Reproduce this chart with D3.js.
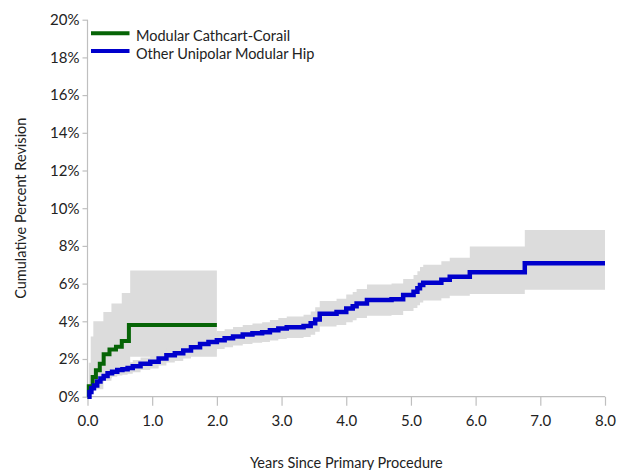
<!DOCTYPE html>
<html>
<head>
<meta charset="utf-8">
<script src="https://cdn.jsdelivr.net/npm/d3@7"></script>
<style>
  html, body { margin: 0; padding: 0; background: #ffffff; }
  svg { display: block; }
  text { font-family: Lato, "Open Sans", sans-serif; fill: #222; }
</style>
</head>
<body>
<svg id="chart" width="618" height="470"></svg>
<script>
// Cumulative percent revision (Kaplan-Meier style steps) with 95% CI bands

const seriesNames = ["Modular Cathcart-Corail", "Other Unipolar Modular Hip"];
const xTicks = [0, 1, 2, 3, 4, 5, 6, 7, 8];
const yTicks = [0, 2, 4, 6, 8, 10, 12, 14, 16, 18, 20];

// Modular Cathcart-Corail
const cathYears = [0, 0.02, 0.08, 0.13, 0.19, 0.25, 0.34, 0.44, 0.53, 0.64, 2.0];
const cathValue = [0, 0.55, 1.05, 1.4, 1.75, 2.25, 2.5, 2.65, 2.95, 3.8, 3.8];
const cathBandYears = [0, 0.02, 0.05, 0.09, 0.245, 0.37, 0.53, 0.66, 2.0];
const cathLower = [0, 0.05, 0.2, 0.4, 0.85, 1.3, 1.6, 2.12, 2.12];
const cathUpper = [0, 1.8, 3.2, 4.0, 4.5, 4.95, 5.5, 6.7, 6.7];

// Other Unipolar Modular Hip
const otherYears = [0, 0.03, 0.06, 0.1, 0.15, 0.2, 0.25, 0.31, 0.38, 0.46, 0.54, 0.62, 0.7, 0.82, 0.97,
  1.1, 1.22, 1.35, 1.48, 1.6, 1.74, 1.87, 2.0, 2.12, 2.25, 2.4, 2.55, 2.7, 2.82, 2.95, 3.08, 3.34,
  3.45, 3.52, 3.59, 3.85, 4.0, 4.1, 4.16, 4.32, 4.7, 4.88, 5.04, 5.1, 5.14, 5.19, 5.47, 5.6, 5.91,
  6.76, 8.0];
const otherValue = [0, 0.25, 0.45, 0.6, 0.8, 0.97, 1.1, 1.24, 1.33, 1.42, 1.46, 1.52, 1.62, 1.75, 1.86,
  2.02, 2.2, 2.3, 2.45, 2.62, 2.8, 2.9, 3.0, 3.1, 3.2, 3.3, 3.37, 3.42, 3.52, 3.62, 3.68, 3.75,
  3.9, 4.1, 4.4, 4.5, 4.68, 4.8, 4.95, 5.13, 5.17, 5.4, 5.57, 5.75, 5.93, 6.05, 6.2, 6.37, 6.6,
  7.08, 7.08];
const otherLower = [0, 0.1, 0.28, 0.42, 0.6, 0.75, 0.87, 0.98, 1.06, 1.13, 1.17, 1.22, 1.3, 1.42, 1.5,
  1.65, 1.82, 1.9, 2.02, 2.18, 2.35, 2.44, 2.53, 2.62, 2.72, 2.8, 2.86, 2.9, 2.98, 3.06, 3.12, 3.17,
  3.28, 3.45, 3.72, 3.8, 3.95, 4.05, 4.18, 4.3, 4.33, 4.55, 4.7, 4.85, 5.0, 5.1, 5.22, 5.35, 5.45,
  5.67, 5.67];
const otherUpper = [0, 0.4, 0.65, 0.8, 1.0, 1.2, 1.35, 1.5, 1.6, 1.7, 1.76, 1.83, 1.95, 2.08, 2.2,
  2.38, 2.58, 2.7, 2.87, 3.06, 3.25, 3.36, 3.48, 3.58, 3.7, 3.8, 3.88, 3.95, 4.07, 4.18, 4.25, 4.35,
  4.52, 4.75, 5.08, 5.2, 5.42, 5.55, 5.72, 5.95, 6.0, 6.25, 6.45, 6.65, 6.88, 7.0, 7.18, 7.37, 7.97,
  8.85, 8.85];

const colors = ["#066406", "#0000cc"];
const bandColor = "#dcdcdc";

const svg = d3.select("#chart");
const x = d3.scaleLinear().domain([0, 8]).range([87.5, 605]);
const y = d3.scaleLinear().domain([0, 20]).range([396.7, 19.7]);

const zip = (t, v) => t.map((d, i) => [d, v[i]]);
const zip3 = (t, lo, hi) => t.map((d, i) => [d, lo[i], hi[i]]);

// Confidence bands
const area = d3.area().curve(d3.curveStepAfter)
  .x(d => x(d[0])).y0(d => y(d[1])).y1(d => y(d[2]));
svg.append("path").datum(zip3(cathBandYears, cathLower, cathUpper))
  .attr("d", area).attr("fill", bandColor);
svg.append("path").datum(zip3(otherYears, otherLower, otherUpper))
  .attr("d", area).attr("fill", bandColor);

// Axes
const axisColor = "#bfbfbf";
const yAxis = svg.append("g").attr("transform", `translate(${x(0)},0)`)
  .call(d3.axisLeft(y).tickValues(yTicks).tickSize(5).tickFormat(d => d + "%"));
const xAxis = svg.append("g").attr("transform", `translate(0,${y(0)})`)
  .call(d3.axisBottom(x).tickValues(xTicks).tickSize(9).tickFormat(d3.format(".1f")));
[yAxis, xAxis].forEach(g => {
  g.select(".domain").attr("stroke", axisColor).attr("stroke-width", 1.2);
  g.selectAll(".tick line").attr("stroke", axisColor).attr("stroke-width", 1.2);
  g.selectAll(".tick text").attr("fill", "#222").style("font-family", "Lato, sans-serif")
    .style("font-size", "15px");
});
yAxis.select(".domain").attr("d", `M0,${y(20)}V${y(0)}`);
xAxis.select(".domain").attr("d", `M${x(0)},0H${x(8)}`);
yAxis.selectAll(".tick text").attr("x", -8);
xAxis.selectAll(".tick text").attr("y", 19);

// Survival-style step lines
const line = d3.line().curve(d3.curveStepAfter).x(d => x(d[0])).y(d => y(d[1]));
svg.append("path").datum(zip(cathYears, cathValue)).attr("d", line)
  .attr("fill", "none").attr("stroke", colors[0]).attr("stroke-width", 4);
svg.append("path").datum(zip(otherYears, otherValue)).attr("d", line)
  .attr("fill", "none").attr("stroke", colors[1]).attr("stroke-width", 4.5);

// Axis titles
svg.append("text").attr("x", (x(0) + x(8)) / 2).attr("y", 468)
  .attr("text-anchor", "middle").style("font-size", "14.5px")
  .text("Years Since Primary Procedure");
svg.append("text").attr("transform", `translate(26,${y(10)}) rotate(-90)`)
  .attr("text-anchor", "middle").style("font-size", "14.5px")
  .text("Cumulative Percent Revision");

// Legend
const legend = svg.append("g");
seriesNames.forEach((name, i) => {
  const ly = 33.3 + i * 17.7;
  legend.append("line").attr("x1", 91).attr("x2", 129.5).attr("y1", ly).attr("y2", ly)
    .attr("stroke", colors[i]).attr("stroke-width", 4);
  legend.append("text").attr("x", 136).attr("y", ly + 7.5)
    .style("font-size", "14.5px").text(name);
});
</script>
</body>
</html>
